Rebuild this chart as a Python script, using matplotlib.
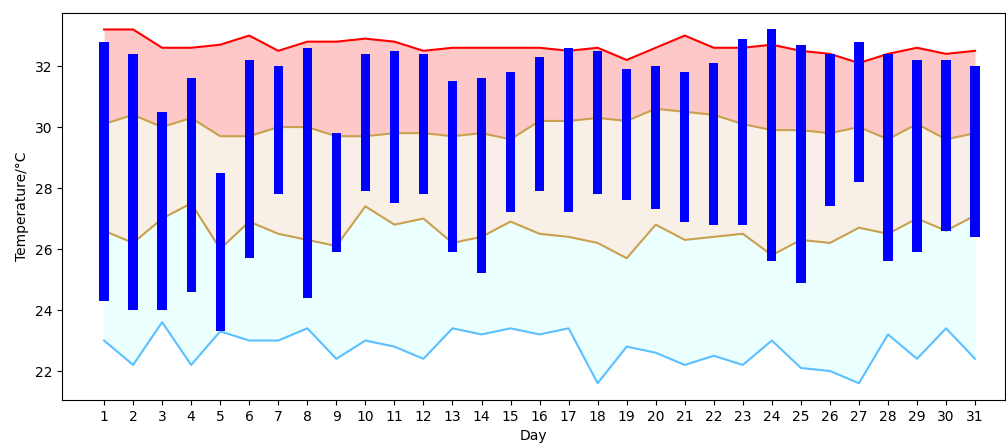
import numpy as np
import matplotlib
matplotlib.use('Agg')
import matplotlib.pyplot as plt

days = np.arange(1, 32)

# record high / mean high / mean low / record low (per day)
record_high = [33.2, 33.2, 32.6, 32.6, 32.7, 33.0, 32.5, 32.8, 32.8, 32.9,
               32.8, 32.5, 32.6, 32.6, 32.6, 32.6, 32.5, 32.6, 32.2, 32.6,
               33.0, 32.6, 32.6, 32.7, 32.5, 32.4, 32.1, 32.4, 32.6, 32.4, 32.5]
avg_high = [30.1, 30.4, 30.0, 30.3, 29.7, 29.7, 30.0, 30.0, 29.7, 29.7,
            29.8, 29.8, 29.7, 29.8, 29.6, 30.2, 30.2, 30.3, 30.2, 30.6,
            30.5, 30.4, 30.1, 29.9, 29.9, 29.8, 30.0, 29.6, 30.1, 29.6, 29.8]
avg_low = [26.6, 26.2, 27.0, 27.5, 26.0, 26.9, 26.5, 26.3, 26.1, 27.4,
           26.8, 27.0, 26.2, 26.4, 26.9, 26.5, 26.4, 26.2, 25.7, 26.8,
           26.3, 26.4, 26.5, 25.8, 26.3, 26.2, 26.7, 26.5, 27.0, 26.6, 27.1]
record_low = [23.0, 22.2, 23.6, 22.2, 23.3, 23.0, 23.0, 23.4, 22.4, 23.0,
              22.8, 22.4, 23.4, 23.2, 23.4, 23.2, 23.4, 21.6, 22.8, 22.6,
              22.2, 22.5, 22.2, 23.0, 22.1, 22.0, 21.6, 23.2, 22.4, 23.4, 22.4]

# this month's daily range
day_max = [32.8, 32.4, 30.5, 31.6, 28.5, 32.2, 32.0, 32.6, 29.8, 32.4,
           32.5, 32.4, 31.5, 31.6, 31.8, 32.3, 32.6, 32.5, 31.9, 32.0,
           31.8, 32.1, 32.9, 33.2, 32.7, 32.4, 32.8, 32.4, 32.2, 32.2, 32.0]
day_min = [24.3, 24.0, 24.0, 24.6, 23.3, 25.7, 27.8, 24.4, 25.9, 27.9,
           27.5, 27.8, 25.9, 25.2, 27.2, 27.9, 27.2, 27.8, 27.6, 27.3,
           26.9, 26.8, 26.8, 25.6, 24.9, 27.4, 28.2, 25.6, 25.9, 26.6, 26.4]

fig, ax = plt.subplots(figsize=(10.06, 4.44), dpi=100)
fig.subplots_adjust(left=0.0616, right=0.999, top=0.9707, bottom=0.0991)

ax.fill_between(days, avg_high, record_high, color='#ffc8c8', lw=0)
ax.fill_between(days, avg_low, avg_high, color='#f8f0e6', lw=0)
ax.fill_between(days, record_low, avg_low, color='#ebffff', lw=0)

ax.plot(days, record_high, color='red', lw=1.5)
ax.plot(days, avg_high, color='#c9a04e', lw=1.5)
ax.plot(days, avg_low, color='#c9a04e', lw=1.5)
ax.plot(days, record_low, color='#5bc0ff', lw=1.5)

heights = np.array(day_max) - np.array(day_min)
ax.bar(days, heights, bottom=day_min, width=0.32, color='blue', zorder=3)

ax.set_xticks(days)
ax.set_yticks([22, 24, 26, 28, 30, 32])
ax.set_xlim(-0.45, 32.03)
ax.set_ylim(21.05, 33.74)
ax.set_xlabel('Day')
ax.set_ylabel('Temperature/°C')

plt.savefig('out.png', dpi=100)
